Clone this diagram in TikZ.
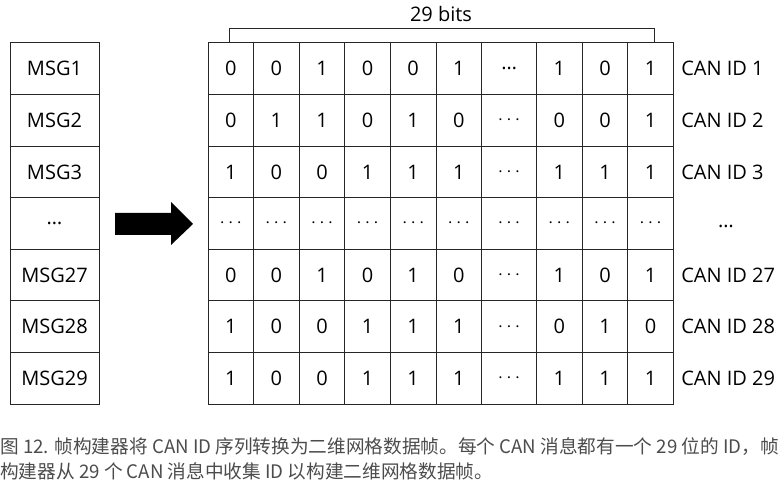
\documentclass[tikz,border=0pt]{standalone}
\usepackage{fontspec}
\setmainfont{Open Sans}
\newfontfamily\cjk{Noto Sans CJK SC}
\usetikzlibrary{positioning}
\tikzstyle{cell} = [draw=black!85, line width=0.75pt, inner sep=0pt, minimum height=38.7pt, font=\fontsize{15}{17}\selectfont]
\tikzstyle{lbl} = [inner sep=0pt, anchor=west, font=\fontsize{15}{17}\selectfont]
\tikzstyle{caption} = [inner sep=0pt, anchor=west, text=black!70, font=\cjk\fontsize{14}{16}\selectfont]
\newcommand{\dd}{$\cdots$}
\newcommand{\el}{…}

\begin{document}
\begin{tikzpicture}[x=0.75pt, y=-0.75pt]
	\useasboundingbox (0,0) rectangle (783,488);
	% left column of messages
	\foreach \m [count=\i] in {MSG1,MSG2,MSG3,\el,MSG27,MSG28,MSG29}
		\node [cell, minimum width=66.75pt] (m\i) at (54.5, 43+51.6*\i-25.8) {\m};
	% grid of id bits
	\foreach \r [count=\i] in {{0,0,1,0,0,1,\el,1,0,1},{0,1,1,0,1,0,\dd,0,0,1},{1,0,0,1,1,1,\dd,1,1,1},{\dd,\dd,\dd,\dd,\dd,\dd,\dd,\dd,\dd,\dd},{0,0,1,0,1,0,\dd,1,0,1},{1,0,0,1,1,1,\dd,0,1,0},{1,0,0,1,1,1,\dd,1,1,1}}
		\foreach \v [count=\j] in \r {
			\pgfmathsetmacro\cx{\j<7 ? 208+45.6*(\j-0.5) : (\j==7 ? 509.1 : 536.6+45.6*(\j-7.5))}
			\pgfmathsetmacro\cw{\j==7 ? 41.25 : 34.2}
			\node [cell, minimum width=\cw pt] (c\i-\j) at (\cx, 43+51.6*\i-25.8) {\v};
		}
	% id labels
	\foreach \t [count=\i] in {CAN ID 1,CAN ID 2,CAN ID 3,,CAN ID 27,CAN ID 28,CAN ID 29}
		\node [lbl] (id\i) at (681, 43+51.6*\i-25.8) {\t};
	\node [inner sep=0pt, font=\fontsize{15}{17}\selectfont] (id4) at (726, 226) {\el};
	% bracket over the bits
	\coordinate (bl) at (229,29);
	\coordinate (br) at (654,29);
	\draw [black!85, line width=0.75pt] (c1-1.north -| bl) -- (bl) -- (br) -- (c1-10.north -| br);
	\node [inner sep=0pt, font=\fontsize{15}{17}\selectfont] (bits) at (441,14) {29 bits};
	% arrow
	\fill (115,213) -- (171,213) -- (171,202) -- (193,224) -- (171,245) -- (171,235) -- (115,235) -- cycle;
	% caption
	\node [caption] (cap1) at (0,447) {图 12. 帧构建器将 CAN ID 序列转换为二维网格数据帧。每个 CAN 消息都有一个 29 位的 ID，帧};
	\node [caption] (cap2) at (0,471) {构建器从 29 个 CAN 消息中收集 ID 以构建二维网格数据帧。};
\end{tikzpicture}
\end{document}
